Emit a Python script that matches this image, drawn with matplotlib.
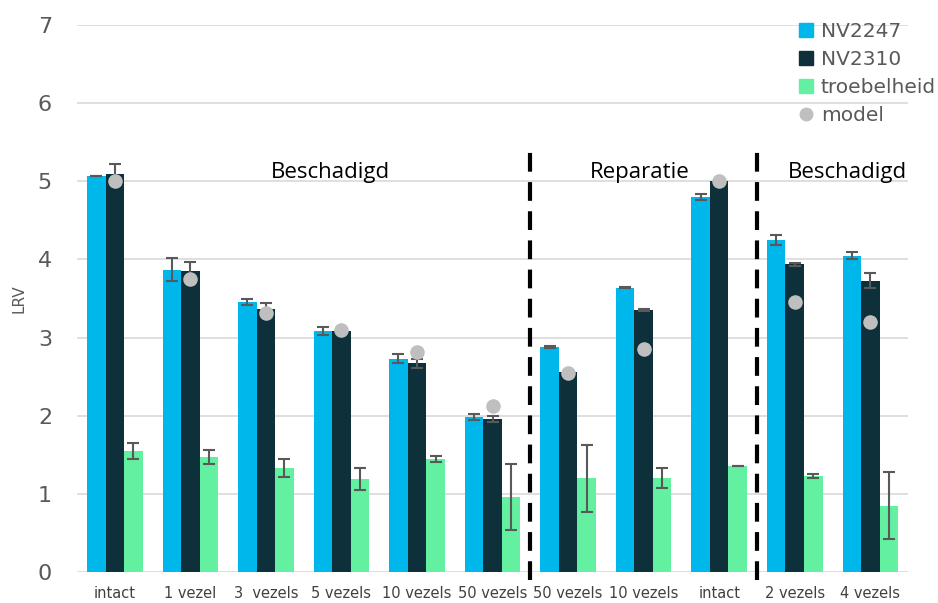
import matplotlib
matplotlib.use("Agg")
import matplotlib.pyplot as plt
import numpy as np
from matplotlib.patches import Patch
from matplotlib.lines import Line2D

categories = ["intact", "1 vezel", "3  vezels", "5 vezels", "10 vezels", "50 vezels",
              "50 vezels", "10 vezels", "intact", "2 vezels", "4 vezels"]
nv2247 = [5.07, 3.87, 3.46, 3.08, 2.73, 1.98, 2.88, 3.64, 4.80, 4.25, 4.05]
nv2247_err = [0.0, 0.15, 0.04, 0.05, 0.06, 0.04, 0.01, 0.01, 0.04, 0.06, 0.05]
nv2310 = [5.09, 3.85, 3.37, 3.08, 2.67, 1.96, 2.56, 3.35, 5.00, 3.94, 3.73]
nv2310_err = [0.13, 0.12, 0.07, 0.0, 0.06, 0.04, 0.0, 0.01, 0.0, 0.02, 0.10]
troebel = [1.55, 1.47, 1.33, 1.19, 1.45, 0.96, 1.20, 1.20, 1.36, 1.23, 0.85]
troebel_err = [0.10, 0.09, 0.12, 0.14, 0.04, 0.42, 0.43, 0.13, 0.0, 0.03, 0.43]
model = [5.00, 3.75, 3.32, 3.10, 2.82, 2.13, 2.55, 2.85, 5.00, 3.46, 3.20]
section_labels = ["Beschadigd", "Reparatie", "Beschadigd"]
section_pos = [2.85, 6.95, 9.7]
dividers = [5.5, 8.5]

c1, c2, c3, cm = "#00B7EB", "#0E303A", "#63F0A0", "#BFBFBF"
ecol = "#595959"

fig = plt.figure(figsize=(9.38, 6.03), dpi=100)
ax = fig.add_axes([0.0821, 0.0514, 0.886, 0.907])
x = np.arange(len(categories))
w = 0.245
ek = dict(ecolor=ecol, capsize=4, elinewidth=1.5, capthick=1.5)
ax.bar(x - w, nv2247, w, color=c1, yerr=nv2247_err, error_kw=ek, zorder=2)
ax.bar(x, nv2310, w, color=c2, yerr=nv2310_err, error_kw=ek, zorder=2)
ax.bar(x + w, troebel, w, color=c3, yerr=troebel_err, error_kw=ek, zorder=2)
ax.scatter(x, model, s=110, color=cm, zorder=4, linewidths=0)

ax.set_xlim(-0.5, len(categories) - 0.5)
ax.set_ylim(0, 7)
ax.set_yticks(range(8))
ax.yaxis.grid(True, color="#D9D9D9", linewidth=1.2, zorder=0)
ax.set_axisbelow(True)
for s in ax.spines.values():
    s.set_visible(False)
ax.tick_params(axis="both", length=0)
ax.tick_params(axis="y", labelsize=16, labelcolor="#595959", pad=18)
ax.set_xticks(x)
ax.set_xticklabels(categories, fontsize=10.5, color="#404040")
ax.tick_params(axis="x", pad=10)
ax.set_ylabel("LRV", fontsize=11, color="#595959", labelpad=8)

for d in dividers:
    ax.plot([d, d], [-0.1, 5.45], color="black", linestyle=(0, (4.5, 2.5)), linewidth=3,
            clip_on=False, zorder=5)
for lab, p in zip(section_labels, section_pos):
    ax.text(p, 5.04, lab, fontsize=16, color="black", ha="center", va="baseline",
            family="Open Sans")

handles = [Patch(color=c1, label="NV2247"), Patch(color=c2, label="NV2310"),
           Patch(color=c3, label="troebelheid"),
           Line2D([], [], marker="o", color=cm, linestyle="none", markersize=9, label="model")]
leg = fig.legend(handles=handles, loc="upper left", bbox_to_anchor=(0.843, 0.977),
                 frameon=False, fontsize=14.5, handlelength=0.7, handleheight=0.7,
                 handletextpad=0.4, labelspacing=0.45, borderaxespad=0)
for t in leg.get_texts():
    t.set_color("#595959")

fig.savefig("out.png", dpi=100)
